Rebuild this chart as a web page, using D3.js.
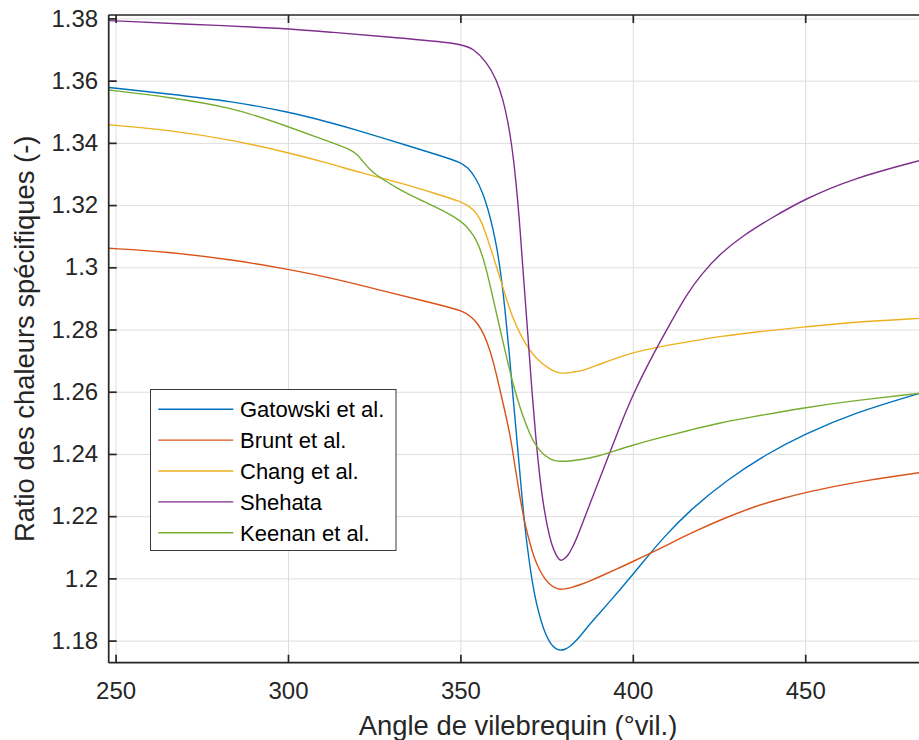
<!DOCTYPE html>
<html><head><meta charset="utf-8">
<script src="https://cdn.jsdelivr.net/npm/d3@7/dist/d3.min.js"></script>
<style>body{margin:0;background:#fff}</style>
</head><body><svg id="c" width="919" height="740"></svg>
<script>
const seriesNames = ["Gatowski et al.", "Brunt et al.", "Chang et al.", "Shehata", "Keenan et al."];
const seriesColors = ["#0072BD", "#D95319", "#EDB120", "#7E2F8E", "#77AC30"];

// [angle (°vil.), ratio]
const gatowski = [[248,1.3578],[265,1.3558],[284,1.3533],[300,1.3500],[312,1.3466],[321,1.3438],[335,1.3390],[345,1.3356],[349.9,1.3338],[352.2,1.3321],[354.5,1.3287],[356.5,1.3239],[358.1,1.3184],[359.4,1.3126],[360.6,1.3062],[361.8,1.2975],[362.9,1.2869],[364.1,1.2734],[365.2,1.2590],[366.4,1.2445],[367.6,1.2294],[368.7,1.2162],[369.9,1.2059],[371.0,1.1976],[372.2,1.1911],[373.4,1.1863],[374.5,1.1825],[376.0,1.1792],[377.4,1.1775],[378.9,1.1768],[380.3,1.1771],[381.8,1.1781],[383.2,1.1796],[384.7,1.1813],[386.6,1.1841],[390.5,1.1890],[393.4,1.1927],[396.3,1.1964],[400.1,1.2014],[405.0,1.2080],[408.8,1.2130],[416.6,1.2220],[427.2,1.2316],[438.8,1.2400],[449.9,1.2464],[463.9,1.2531],[483.2,1.2595]];
const brunt = [[248,1.3061],[265,1.3050],[284,1.3024],[300,1.2994],[313,1.2965],[327.6,1.2924],[342,1.2885],[349.9,1.2862],[351.6,1.2853],[353.3,1.2839],[355.1,1.2818],[356.8,1.2786],[358.6,1.2734],[360.3,1.2664],[362.0,1.2580],[364.4,1.2466],[365.8,1.2361],[367.3,1.2258],[368.7,1.2175],[370.2,1.2111],[371.6,1.2059],[373.1,1.2024],[374.5,1.1998],[376.0,1.1980],[377.4,1.1969],[378.9,1.1964],[380.3,1.1966],[381.8,1.1969],[384.7,1.1979],[387.6,1.1992],[390.5,1.2006],[395.3,1.2030],[400.0,1.2054],[405.0,1.2080],[410.8,1.2112],[416.6,1.2144],[425.3,1.2188],[434.9,1.2230],[442.7,1.2255],[449.9,1.2276],[463.9,1.2309],[483.2,1.2340]];
const chang = [[248,1.3458],[265,1.3442],[284,1.3409],[300,1.3369],[312,1.3334],[321,1.3304],[331.5,1.3275],[344,1.3233],[349.9,1.3212],[351.9,1.3200],[353.7,1.3186],[355.7,1.3159],[357.6,1.3101],[359.5,1.3036],[361.5,1.2966],[363.4,1.2895],[365.3,1.2834],[367.3,1.2786],[369.0,1.2752],[371.0,1.2720],[373.1,1.2696],[375.0,1.2680],[376.8,1.2667],[378.9,1.2659],[380.9,1.2660],[382.6,1.2663],[384.7,1.2666],[387.6,1.2676],[390.5,1.2689],[396.3,1.2712],[400.0,1.2725],[405.9,1.2741],[416.6,1.2762],[425.3,1.2778],[436.9,1.2794],[449.9,1.2808],[463.9,1.2824],[483.2,1.2836]];
const shehata = [[248,1.3793],[270,1.3782],[299.6,1.3768],[312,1.3756],[331.5,1.3738],[350,1.3720],[353.7,1.3704],[357.6,1.3660],[360.5,1.3604],[362.4,1.3538],[363.8,1.3467],[364.9,1.3393],[366.1,1.3281],[367.3,1.3126],[368.4,1.2953],[369.6,1.2779],[370.7,1.2606],[371.9,1.2445],[373.1,1.2316],[374.2,1.2226],[375.4,1.2156],[376.5,1.2107],[377.7,1.2075],[378.9,1.2055],[380.0,1.2061],[381.2,1.2074],[382.3,1.2095],[383.5,1.2123],[384.7,1.2156],[386.6,1.2213],[390.5,1.2323],[393.4,1.2406],[396.3,1.2490],[400.1,1.2593],[405.3,1.2708],[410.8,1.2818],[415.6,1.2913],[420.0,1.2979],[425.3,1.3044],[432.0,1.3102],[439.8,1.3156],[449.9,1.3220],[463.9,1.3286],[483.2,1.3343]];
const keenan = [[248,1.3570],[264.8,1.3548],[284.1,1.3514],[300.1,1.3452],[313.1,1.3399],[318.0,1.3379],[320.0,1.3364],[321.8,1.3339],[323.8,1.3314],[325.5,1.3298],[328.1,1.3279],[331.5,1.3255],[336.2,1.3228],[341.2,1.3202],[344.1,1.3186],[347.0,1.3170],[349.9,1.3150],[351.9,1.3131],[353.7,1.3104],[355.1,1.3077],[356.6,1.3030],[358.0,1.2972],[359.5,1.2898],[360.9,1.2831],[362.4,1.2757],[363.8,1.2692],[365.2,1.2628],[366.7,1.2570],[368.1,1.2522],[369.6,1.2479],[371.0,1.2443],[372.5,1.2418],[374.2,1.2397],[376.0,1.2384],[377.4,1.2378],[378.9,1.2376],[381.8,1.2377],[384.7,1.2381],[389.5,1.2391],[394.8,1.2410],[400.1,1.2429],[407.9,1.2452],[416.6,1.2477],[425.3,1.2500],[434.9,1.2520],[449.9,1.2549],[463.9,1.2571],[483.2,1.2595]];

const xTicks = [250, 300, 350, 400, 450];
const yTicks = [1.18, 1.2, 1.22, 1.24, 1.26, 1.28, 1.3, 1.32, 1.34, 1.36, 1.38];
const yTickLabels = ["1.18", "1.2", "1.22", "1.24", "1.26", "1.28", "1.3", "1.32", "1.34", "1.36", "1.38"];
const xLabel = "Angle de vilebrequin (°vil.)";
const yLabel = "Ratio des chaleurs spécifiques (-)";

const data = [gatowski, brunt, chang, shehata, keenan];
const FONT = "'Liberation Sans', Arial, sans-serif";
const L = 108.7, T = 15, R = 919, B = 662.7;
const x = d3.scaleLinear().domain([248, 483]).range([L, R]);
const y = d3.scaleLinear().domain([1.1729, 1.3811]).range([B, T]);

const svg = d3.select("#c");
svg.append("rect").attr("width", 919).attr("height", 740).attr("fill", "#fff");
svg.append("defs").append("clipPath").attr("id", "clip")
  .append("rect").attr("x", L).attr("y", T).attr("width", R - L).attr("height", B - T);

// grid
const grid = svg.append("g").attr("class", "grid");
grid.append("g").attr("transform", `translate(0,${B})`)
  .call(d3.axisBottom(x).tickValues(xTicks).tickSize(-(B - T)).tickFormat(""))
  .call(g => g.select(".domain").remove());
grid.append("g").attr("transform", `translate(${L},0)`)
  .call(d3.axisLeft(y).tickValues(yTicks).tickSize(-(R - L)).tickFormat(""))
  .call(g => g.select(".domain").remove());
grid.selectAll("line").attr("stroke", "#dedede").attr("stroke-width", 1);

// lines
const line = d3.line().x(d => x(d[0])).y(d => y(d[1])).curve(d3.curveBasis);
svg.append("g").attr("clip-path", "url(#clip)")
  .selectAll("path").data(data).join("path")
  .attr("d", line).attr("fill", "none")
  .attr("stroke", (d, i) => seriesColors[i]).attr("stroke-width", 1.4);

// axes
const axCol = "#262626";
const xb = svg.append("g").attr("transform", `translate(0,${B})`)
  .call(d3.axisBottom(x).tickValues(xTicks).tickSizeInner(-8).tickSizeOuter(0).tickPadding(19).tickFormat(d3.format("d")));
const xt = svg.append("g").attr("transform", `translate(0,${T})`)
  .call(d3.axisTop(x).tickValues(xTicks).tickSizeInner(-8).tickSizeOuter(0).tickFormat(""));
const yl = svg.append("g").attr("transform", `translate(${L},0)`)
  .call(d3.axisLeft(y).tickValues(yTicks).tickSizeInner(-8).tickSizeOuter(0).tickPadding(10.5)
    .tickFormat((d, i) => yTickLabels[i]));
[xb, xt, yl].forEach(g => {
  g.select(".domain").attr("stroke", axCol).attr("stroke-width", 1.7);
  g.selectAll(".tick line").attr("stroke", axCol).attr("stroke-width", 1.7);
  g.selectAll("text").attr("fill", axCol).style("font-family", FONT).style("font-size", "24px");
});
yl.select(".domain").attr("d", `M0,${T}V${B}`);
xb.select(".domain").attr("d", `M${L},0H${R}`);
xt.select(".domain").attr("d", `M${L},0H${R}`);

// axis labels
svg.append("text").attr("x", 518).attr("y", 735).attr("text-anchor", "middle")
  .attr("fill", axCol).style("font-family", FONT).style("font-size", "27.4px").text(xLabel);
svg.append("text").attr("transform", `translate(34,${(T + B) / 2}) rotate(-90)`).attr("text-anchor", "middle")
  .attr("fill", axCol).style("font-family", FONT).style("font-size", "27.4px").text(yLabel);

// legend
const lg = svg.append("g");
lg.append("rect").attr("x", 150.5).attr("y", 389.5).attr("width", 245.5).attr("height", 161)
  .attr("fill", "#fff").attr("stroke", "#3a3a3a").attr("stroke-width", 1);
seriesNames.forEach((n, i) => {
  const cy = 409.3 + i * 30.85;
  lg.append("line").attr("x1", 158.3).attr("x2", 233.3).attr("y1", cy).attr("y2", cy)
    .attr("stroke", seriesColors[i]).attr("stroke-width", 1.4);
  lg.append("text").attr("x", 240).attr("y", cy).attr("dy", "0.36em")
    .attr("fill", "#000").style("font-family", FONT).style("font-size", "22px").text(n);
});
</script></body></html>
